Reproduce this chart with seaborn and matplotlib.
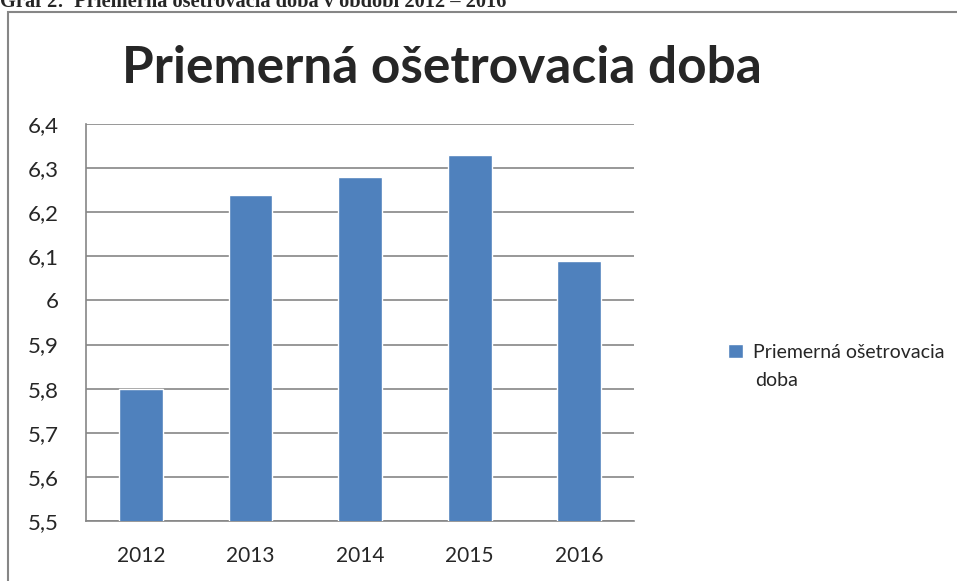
import matplotlib
matplotlib.use("Agg")
import matplotlib.pyplot as plt
from matplotlib.ticker import FuncFormatter, FixedLocator, MultipleLocator
from matplotlib.patches import Rectangle
import seaborn as sns

years = ["2012", "2013", "2014", "2015", "2016"]
values = [5.80, 6.24, 6.28, 6.33, 6.09]
series_name = "Priemerná ošetrovacia doba"
caption = "Graf 2:  Priemerná ošetrovacia doba v období 2012 – 2016"

sns.set_style("white")
plt.rcParams['font.family'] = ['Lato', 'DejaVu Sans']

fig = plt.figure(figsize=(9.57, 5.81), dpi=100)
ax = fig.add_axes([0.0899, 0.1033, 0.5726, 0.6833])

# outer chart frame (clipped by the page like in the screenshot)
fig.patches.append(Rectangle((8 / 957, -0.1), 1.2, 1 - 12 / 581 + 0.1,
                             transform=fig.transFigure, fill=False,
                             edgecolor="#868686", lw=1.5))
fig.text(0.0, 1 - 7 / 581, caption, family="Liberation Serif", weight="bold",
         fontsize=14.7, va="baseline", ha="left")

sns.barplot(x=years, y=values, color="#4F81BD", width=0.4, saturation=1,
            label=series_name, ax=ax, zorder=3)

ax.set_ylim(5.5, 6.4)
ax.set_xlim(-0.5, 4.5)
ax.yaxis.set_major_locator(MultipleLocator(0.1))
ax.yaxis.set_major_formatter(FuncFormatter(lambda v, p: f"{v:.1f}".rstrip("0").rstrip(".").replace(".", ",")))
ax.grid(axis="y", color="#868686", lw=1.2, zorder=0)
for s in ["top", "right"]:
    ax.spines[s].set_visible(False)
for s in ["left", "bottom"]:
    ax.spines[s].set_color("#868686")
    ax.spines[s].set_linewidth(1.2)
ax.set_xlabel("")
ax.set_ylabel("")
ax.tick_params(axis="y", length=7.5, width=1.2, color="#868686", labelsize=16, pad=12)
ax.tick_params(axis="x", which="major", length=0, labelsize=15, pad=18)
ax.xaxis.set_minor_locator(FixedLocator([-0.5, 0.5, 1.5, 2.5, 3.5, 4.5]))
ax.tick_params(axis="x", which="minor", length=6, width=1.2, color="#868686")

# chart title is centred on the whole chart area, not on the plot
fig.text(442 / 957, 1 - 83 / 581, series_name, fontsize=37, weight="bold",
         ha="center", va="baseline")

if ax.legend_:
    ax.legend_.remove()
h, l = ax.get_legend_handles_labels()
fig.legend(h, ["Priemerná ošetrovacia"], loc="center left",
           bbox_to_anchor=(731 / 957 - 0.003, 1 - 352 / 581), frameon=False,
           fontsize=14, handlelength=0.75, handleheight=0.75,
           handletextpad=0.55, borderaxespad=0, borderpad=0)
fig.text(755 / 957, 1 - 380 / 581, "doba", fontsize=14, va="center", ha="left")

fig.savefig("out.png", dpi=100)
